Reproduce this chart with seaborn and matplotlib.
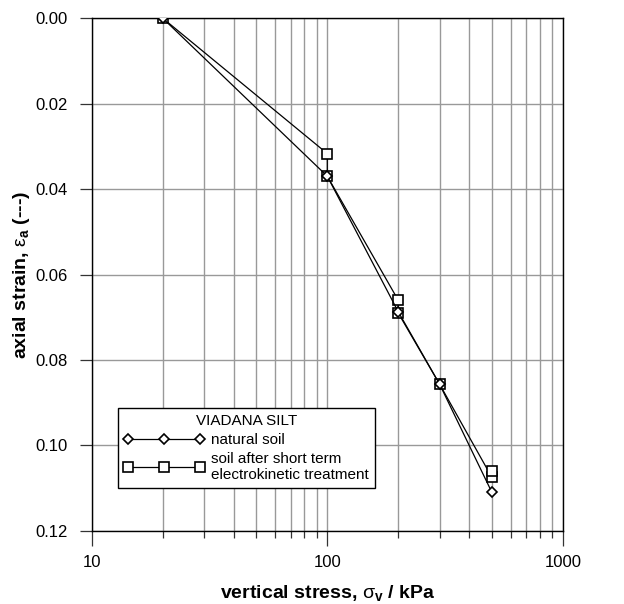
import matplotlib
matplotlib.use("Agg")
import matplotlib.pyplot as plt
import seaborn as sns
import pandas as pd
from matplotlib.ticker import LogLocator, NullFormatter, FixedLocator

# data
natural_x = [20, 100, 200, 300, 500]
natural_y = [0.0, 0.037, 0.0687, 0.0857, 0.111]
treated_x = [20, 100, 100, 200, 200, 300, 500, 500]
treated_y = [0.0, 0.0317, 0.037, 0.066, 0.069, 0.0857, 0.1075, 0.106]
legend_title = "VIADANA SILT"
natural_label = "natural soil"
treated_label = "soil after short term\nelectrokinetic treatment"
y_ticks = [0.00, 0.02, 0.04, 0.06, 0.08, 0.10, 0.12]
x_ticks = [10, 100, 1000]

sns.set_theme(style="white")
plt.rcParams['font.family'] = ['Liberation Sans', 'DejaVu Sans']
plt.rcParams['mathtext.fontset'] = 'custom'
plt.rcParams['mathtext.rm'] = 'Liberation Sans'
plt.rcParams['mathtext.it'] = 'Liberation Sans'
plt.rcParams['mathtext.bf'] = 'Liberation Sans:bold'
plt.rcParams['text.color'] = 'black'
plt.rcParams['axes.labelcolor'] = 'black'
plt.rcParams['xtick.color'] = 'black'
plt.rcParams['ytick.color'] = 'black'

fig = plt.figure(figsize=(6.24, 6.04), dpi=100)
ax = fig.add_axes([0.147, 0.121, 0.755, 0.849])

df_nat = pd.DataFrame({"x": natural_x, "y": natural_y})
df_tr = pd.DataFrame({"x": treated_x, "y": treated_y})

sns.lineplot(data=df_nat, x="x", y="y", sort=False, estimator=None, ax=ax,
             color="black", lw=0.9, marker="D", markersize=5.5,
             markerfacecolor="white", markeredgecolor="black",
             markeredgewidth=1.2, label=natural_label, zorder=5)
sns.lineplot(data=df_tr, x="x", y="y", sort=False, estimator=None, ax=ax,
             color="black", lw=0.9, marker="s", markersize=7,
             markerfacecolor="white", markeredgecolor="black",
             markeredgewidth=1.2, label=treated_label, zorder=4)

ax.set_xscale("log")
ax.set_xlim(10, 1000)
ax.set_ylim(0.12, 0.0)
ax.yaxis.set_major_locator(FixedLocator(y_ticks))
ax.set_yticklabels([f"{v:.2f}" for v in y_ticks])
ax.xaxis.set_minor_locator(LogLocator(base=10, subs=range(2, 10)))
ax.xaxis.set_minor_formatter(NullFormatter())
ax.set_xticks(x_ticks)
ax.set_xticklabels([str(v) for v in x_ticks])

ax.grid(True, which="major", axis="both", color="#999999", lw=1.0)
ax.grid(True, which="minor", axis="x", color="#999999", lw=1.0)
ax.set_axisbelow(True)

for s in ax.spines.values():
    s.set_color("black")
    s.set_linewidth(1.0)

ax.tick_params(axis="x", which="major", direction="out", length=11,
               width=0.9, color="#333333", labelsize=12, pad=6, bottom=True)
ax.tick_params(axis="y", which="major", direction="out", length=9,
               width=0.9, color="#333333", labelsize=12, pad=8, left=True)
ax.tick_params(axis="x", which="minor", direction="out", length=5,
               width=0.9, color="#333333", bottom=True)

ax.set_xlabel(r"vertical stress, $\sigma_\mathbf{v}$ / kPa", fontsize=14,
              fontweight="bold", labelpad=10)
ax.set_ylabel(r"axial strain, $\varepsilon_\mathbf{a}$ (---)", fontsize=14,
              fontweight="bold", labelpad=3)

leg = ax.legend(title=legend_title, loc="lower left",
                bbox_to_anchor=(0.055, 0.084), borderaxespad=0,
                numpoints=3, handlelength=5.3, fontsize=11, title_fontsize=11,
                fancybox=False, frameon=True, handletextpad=0.4,
                labelspacing=0.3, borderpad=0.4)
leg.get_frame().set_edgecolor("black")
leg.get_frame().set_linewidth(1.0)
leg.get_frame().set_alpha(1)

fig.savefig("out.png", dpi=100)
